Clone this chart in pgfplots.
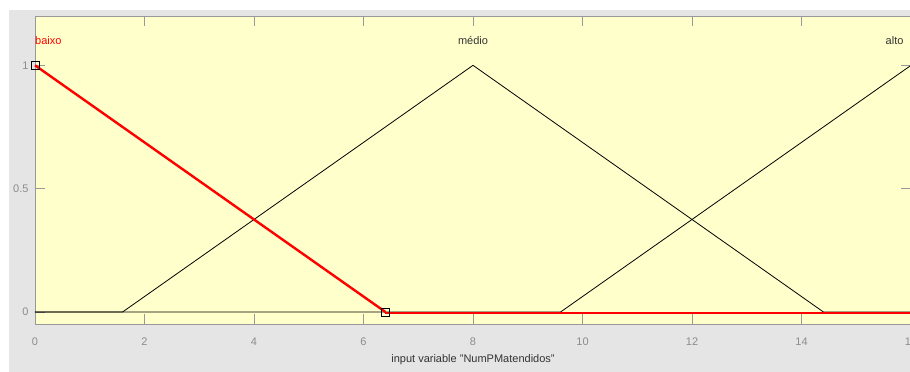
\documentclass[border=0pt]{standalone}
\usepackage{fontspec}
\setmainfont{Liberation Sans}
\usepackage{pgfplots}
\pgfplotsset{compat=1.18}
\definecolor{panel}{HTML}{E5E5E5}
\definecolor{axbg}{HTML}{FFFFCC}
\definecolor{tickgrey}{HTML}{8C8C8C}
\definecolor{framegrey}{HTML}{999999}
\definecolor{labeldark}{HTML}{333333}

\begin{document}
\begin{tikzpicture}[x=1pt,y=1pt]
% window background
\fill[white] (-35,-47.7) rectangle (875,324.3);
\fill[panel] (-26,-47.7) rectangle (875,314.3);
\begin{axis}[
  at={(0,0)}, anchor=south west,
  scale only axis, width=876pt, height=308.3pt,
  xmin=0, xmax=16, ymin=-0.05, ymax=1.2,
  xtick={0,2,...,16}, ytick={0,0.5,1},
  tick align=inside, major tick length=10pt,
  axis background/.style={fill=axbg},
  axis line style={draw=framegrey, line width=0.8pt},
  tick style={draw=framegrey, line width=0.8pt},
  /pgf/number format/assume math mode=true,
  ticklabel style={font=\fontsize{11}{13}\selectfont, text=tickgrey},
  xticklabel style={anchor=center, yshift=-17pt},
  yticklabel style={xshift=-3pt},
  xlabel={input variable "NumPMatendidos"},
  xlabel style={at={(axis description cs:0.5,0)}, anchor=center, yshift=-35pt,
                font=\fontsize{11}{13}\selectfont, text=labeldark},
  clip=false,
]
% membership functions: medio and alto
\addplot[black, line width=0.8pt] coordinates {(0,0) (1.6,0) (8,1) (14.4,0) (16,0)};
\addplot[black, line width=0.8pt] coordinates {(0,0) (9.6,0) (16,1)};
% selected function: baixo
\addplot[red, line width=2.4pt] coordinates {(0,1) (6.4,0)};
\addplot[red, line width=2.4pt, yshift=-1pt] coordinates {(6.4,0) (16,0)};
\addplot[only marks, mark=square, mark size=4pt, black, line width=0.8pt] coordinates {(0,1) (6.4,0)};
% function names
\node[text=red, anchor=west, inner sep=0pt, font=\fontsize{11}{13}\selectfont] at (axis cs:0,1.1) {baixo};
\node[text=labeldark, font=\fontsize{11}{13}\selectfont] at (axis cs:8,1.1) {médio};
\node[text=labeldark, font=\fontsize{11}{13}\selectfont] at (axis cs:15.7,1.1) {alto};
\end{axis}
\pgfresetboundingbox
\useasboundingbox (-35,-47.7) rectangle (875,324.3);
\end{tikzpicture}
\end{document}
